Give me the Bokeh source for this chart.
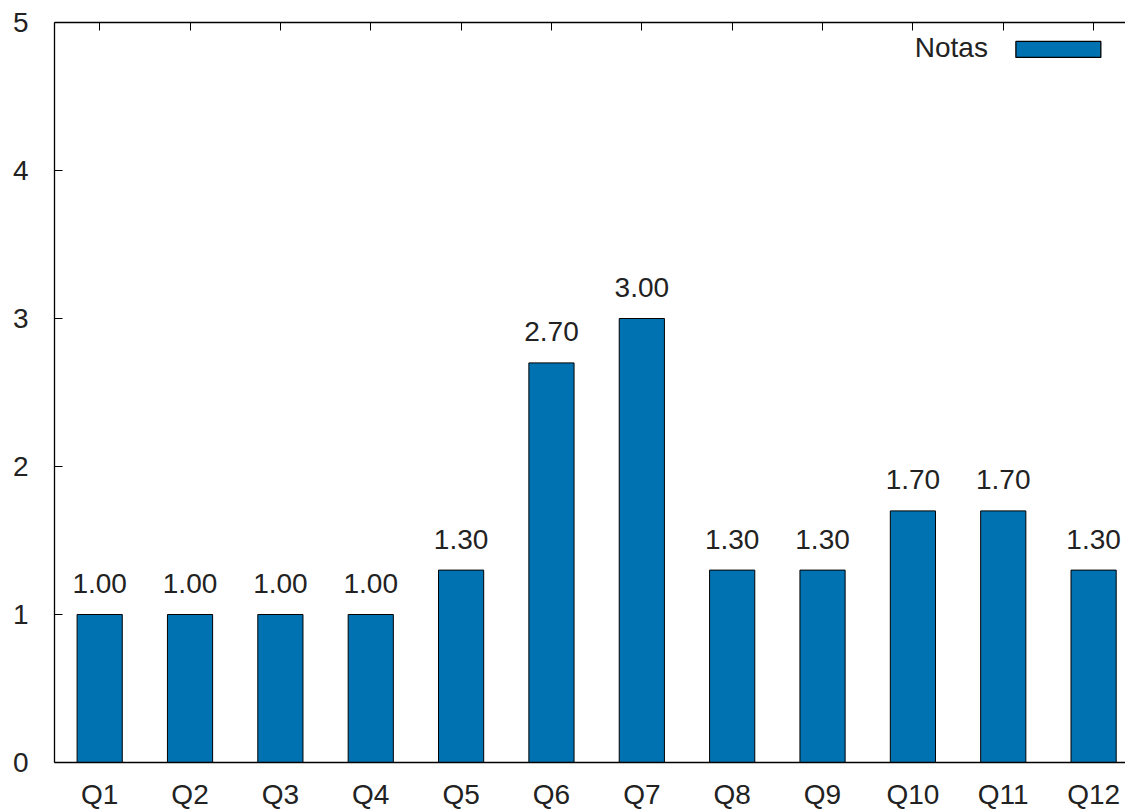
from bokeh.plotting import figure
from bokeh.models import LinearAxis, FixedTicker, ColumnDataSource, Range1d, Label, BoxAnnotation
from bokeh.core.properties import value
from bokeh.embed import file_html
from bokeh.resources import INLINE

categories = ["Q1", "Q2", "Q3", "Q4", "Q5", "Q6", "Q7", "Q8", "Q9", "Q10", "Q11", "Q12"]
notas = [1.00, 1.00, 1.00, 1.00, 1.30, 2.70, 3.00, 1.30, 1.30, 1.70, 1.70, 1.30]
y_ticks = [0, 1, 2, 3, 4, 5]
series_name = "Notas"

FONT = "Liberation Sans"
BAR = "#0072b2"

xs = list(range(len(categories)))
src = ColumnDataSource(dict(x=xs, top=notas, label=[f"{v:.2f}" for v in notas]))

p = figure(width=1125, height=812, output_backend="svg", toolbar_location=None,
           x_range=Range1d(-0.5, 11.353), y_range=Range1d(0, 5),
           min_border_left=54, min_border_right=0, min_border_top=22, min_border_bottom=50,
           x_axis_location=None, y_axis_location=None)
p.background_fill_color = "white"
p.border_fill_color = "white"
p.outline_line_color = None
p.xgrid.visible = False
p.ygrid.visible = False

p.vbar(x="x", top="top", width=0.5, bottom=0, source=src,
       fill_color=BAR, line_color="black", line_width=1)

p.text(x="x", y="top", text="label", source=src, text_align="center",
       text_baseline="alphabetic", y_offset=-31,
       text_font=value(FONT), text_font_size="28px", text_color="#222222")

# axes
ax_b = LinearAxis(ticker=FixedTicker(ticks=xs),
                  major_label_overrides={i: c for i, c in enumerate(categories)})
ax_l = LinearAxis(ticker=FixedTicker(ticks=y_ticks))
ax_t = LinearAxis(ticker=FixedTicker(ticks=xs),
                  major_label_overrides={i: "" for i in xs})
for ax in (ax_b, ax_l, ax_t):
    ax.axis_line_color = "black"
    ax.axis_line_width = 1.3
    ax.major_tick_in = 8
    ax.major_tick_out = 0
    ax.minor_tick_line_color = None
    ax.major_tick_line_color = "black"
    ax.major_label_text_font = FONT
    ax.major_label_text_font_size = "28px"
    ax.major_label_text_color = "#222222"
ax_b.major_tick_line_color = None
ax_b.major_label_standoff = 16
ax_l.major_label_standoff = 26
ax_t.major_label_text_font_size = "1px"
ax_t.major_label_standoff = 0
p.add_layout(ax_b, "below")
p.add_layout(ax_l, "left")
p.add_layout(ax_t, "above")

# legend drawn manually: text left of swatch
p.add_layout(Label(x=9.83, y=4.832, text=series_name, text_align="right",
                   text_baseline="alphabetic", text_font=FONT,
                   text_font_size="28px", text_color="#222222"))
p.add_layout(BoxAnnotation(left=10.14, right=11.08, bottom=4.764, top=4.872,
                           fill_color=BAR, fill_alpha=1, line_color="black",
                           line_alpha=1, line_width=1.3))

open("out.html", "w").write(file_html(p, INLINE))
